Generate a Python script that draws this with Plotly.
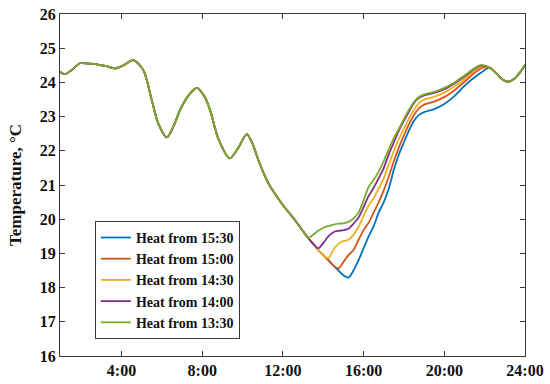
import plotly.graph_objects as go

# ---- data (hours of day, temperature °C) ----
time_common = [0.95, 1.2, 1.5, 1.94, 2.4, 2.77, 3.2, 3.68, 4.1, 4.58, 5.08, 5.5, 5.82, 6.24,
               6.6, 6.9, 7.3, 7.73, 8.1, 8.39, 8.8, 9.37, 9.8, 10.21, 10.5, 10.78, 11.28,
               11.94, 12.6, 13.0]
temp_common = [24.31, 24.24, 24.35, 24.56, 24.55, 24.53, 24.48, 24.41, 24.5, 24.65, 24.36, 23.48,
               22.8, 22.39, 22.75, 23.19, 23.6, 23.84, 23.6, 23.19, 22.35, 21.78, 22.1, 22.49,
               22.2, 21.73, 21.05, 20.46, 19.97, 19.65]

time_heat = [13.25, 13.5, 13.75, 14.0, 14.25, 14.5, 14.75, 15.0, 15.25, 15.5, 15.75, 16.0,
             16.25, 16.5, 16.75, 17.0, 17.25, 17.5, 17.75, 18.0, 18.25, 18.5, 18.75, 19.0,
             19.5, 20.0, 20.5, 21.0, 21.5, 21.85]

heat_1530 = [19.45, 19.28, 19.1, 18.95, 18.8, 18.65, 18.5, 18.36, 18.29, 18.5, 18.8, 19.15,
             19.5, 19.8, 20.2, 20.5, 20.9, 21.45, 21.9, 22.25, 22.6, 22.88, 23.05, 23.13,
             23.22, 23.37, 23.6, 23.9, 24.15, 24.3]
heat_1500 = [19.45, 19.28, 19.1, 18.95, 18.8, 18.65, 18.56, 18.75, 18.95, 19.1, 19.4, 19.68,
             19.9, 20.2, 20.5, 20.85, 21.25, 21.7, 22.1, 22.45, 22.78, 23.05, 23.25, 23.35,
             23.44, 23.57, 23.77, 24.02, 24.28, 24.42]
heat_1430 = [19.45, 19.28, 19.1, 18.95, 18.86, 19.1, 19.28, 19.36, 19.4, 19.55, 19.78, 20.1,
             20.4, 20.62, 20.9, 21.2, 21.6, 22.0, 22.35, 22.65, 22.95, 23.2, 23.4, 23.5,
             23.58, 23.7, 23.88, 24.1, 24.35, 24.46]
heat_1400 = [19.45, 19.28, 19.15, 19.3, 19.5, 19.62, 19.66, 19.68, 19.72, 19.87, 20.05, 20.35,
             20.68, 20.92, 21.2, 21.5, 21.9, 22.25, 22.6, 22.88, 23.15, 23.4, 23.55, 23.62,
             23.69, 23.8, 23.97, 24.17, 24.4, 24.49]
heat_1330 = [19.45, 19.55, 19.66, 19.75, 19.8, 19.84, 19.87, 19.88, 19.92, 20.02, 20.2, 20.55,
             20.95, 21.15, 21.4, 21.7, 22.05, 22.37, 22.65, 22.93, 23.2, 23.43, 23.58, 23.65,
             23.72, 23.84, 24.0, 24.2, 24.42, 24.51]

time_tail = [22.25, 22.6, 22.9, 23.18, 23.5, 23.8, 24.0]
temp_tail = [24.43, 24.25, 24.08, 24.02, 24.12, 24.33, 24.51]

series_names = ["Heat from 15:30", "Heat from 15:00", "Heat from 14:30",
                "Heat from 14:00", "Heat from 13:30"]
series_values = [heat_1530, heat_1500, heat_1430, heat_1400, heat_1330]
series_colors = ["#0072BD", "#D95319", "#EDB120", "#7E2F8E", "#77AC30"]

tick_hours = [4, 8, 12, 16, 20, 24]
tick_labels = ["4:00", "8:00", "12:00", "16:00", "20:00", "24:00"]
y_ticks = list(range(16, 27))

FONT = "Liberation Serif"
DARK = "#3a3a3a"

fig = go.Figure()
for name, vals, col in zip(series_names, series_values, series_colors):
    fig.add_trace(go.Scatter(
        x=time_common + time_heat + time_tail,
        y=temp_common + vals + temp_tail,
        mode="lines", name=name,
        line=dict(color=col, width=1.8, shape="spline", smoothing=0.8),
    ))

axis_common = dict(
    showline=True, linecolor=DARK, linewidth=1, mirror="ticks",
    ticks="inside", ticklen=5, tickcolor=DARK, tickwidth=1,
    showgrid=False, zeroline=False, automargin=False,
    ticklabeloverflow="allow",
    tickfont=dict(family=FONT, size=16, color="#111111", weight="bold"),
)

fig.update_layout(
    width=550, height=384,
    margin=dict(l=60, r=25, t=14, b=28),
    paper_bgcolor="white", plot_bgcolor="white",
    font=dict(family=FONT, color="#111111"),
    xaxis=dict(range=[0.95, 24], tickvals=tick_hours, ticktext=tick_labels, **axis_common),
    yaxis=dict(range=[16, 26], tickvals=y_ticks, ticktext=[str(v) for v in y_ticks],
               **axis_common),
    legend=dict(
        x=0.075, y=0.395, xanchor="left", yanchor="top",
        bgcolor="white", bordercolor=DARK, borderwidth=1,
        font=dict(family=FONT, size=14, color="#111111", weight="bold"),
        traceorder="normal", tracegroupgap=0, itemwidth=30,
    ),
    showlegend=True,
    annotations=[dict(
        text="Temperature, °C", textangle=-90, xref="paper", yref="paper",
        x=-45 / 465, y=0.5, xanchor="center", yanchor="middle", showarrow=False,
        font=dict(family=FONT, size=17, color="#111111", weight="bold"),
    )],
)

# remove the browser's default 8px body margin so the figure sits at the page origin
fig.write_html("out.html",
               config={"displayModeBar": False},
               post_script="document.body.style.margin='0';document.body.style.padding='0';")
